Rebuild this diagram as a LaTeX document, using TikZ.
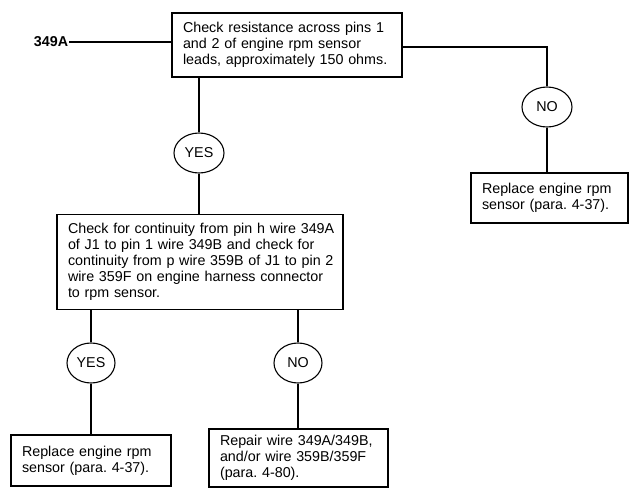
\documentclass[tikz,border=0pt]{standalone}
\usepackage{fontspec}
\setmainfont{Liberation Sans}
\frenchspacing
\usetikzlibrary{shapes.geometric}
\newcommand{\tline}[1]{\mbox{#1}}
\begin{document}
\begin{tikzpicture}[x=1pt,y=-1pt,
  every node/.style={font=\fontsize{14.3}{16}\selectfont},
  line/.style={line width=1.1pt},
  stepbox/.style={draw,line width=1.1pt,align=left,inner xsep=11pt,inner ysep=0pt,anchor=center},
  answer/.style={draw,ellipse,line width=1.1pt,inner sep=0pt,minimum width=50pt,minimum height=40pt}]
\useasboundingbox (0,0) rectangle (630,498);
\node[stepbox,text width=208pt,minimum height=64pt] (top) at (287,45)
  {\tline{Check resistance across pins 1}\\\tline{and 2 of engine rpm sensor}\\\tline{leads, approximately 150 ohms.}};
\node[font=\fontsize{14.3}{16}\selectfont\bfseries,inner sep=1pt] (lbl) at (51,42) {349A};
\node[answer] (yes1) at (199,153) {YES};
\node[answer] (no1) at (547,107) {NO};
\node[stepbox,text width=135pt,minimum height=50pt] (repl1) at (549.5,198)
  {\tline{Replace engine rpm}\\\tline{sensor (para. 4-37).}};
\node[stepbox,text width=264pt,minimum height=95pt] (mid) at (200,262)
  {\tline{Check for continuity from pin h wire 349A}\\\tline{of J1 to pin 1 wire 349B and check for}\\\tline{continuity from p wire 359B of J1 to pin 2}\\\tline{wire 359F on engine harness connector}\\\tline{to rpm sensor.}};
\node[answer,minimum width=48pt] (yes2) at (91,363) {YES};
\node[answer,minimum width=48pt] (no2) at (298,363) {NO};
\node[stepbox,text width=138pt,minimum height=51pt] (repl2) at (91,460.5)
  {\tline{Replace engine rpm}\\\tline{sensor (para. 4-37).}};
\node[stepbox,text width=157pt,minimum height=58pt] (repair) at (298.5,458)
  {\tline{Repair wire 349A/349B,}\\\tline{and/or wire 359B/359F}\\\tline{(para. 4-80).}};
\draw[line] (lbl.east) -- (lbl.east -| top.west);
\draw[line] (top.south -| yes1) -- (yes1.north);
\draw[line] (yes1.south) -- (yes1 |- mid.north);
\draw[line] ([yshift=-2pt]top.east) -| (no1.north);
\draw[line] (no1.south) -- (no1 |- repl1.north);
\draw[line] (mid.south -| yes2) -- (yes2.north);
\draw[line] (yes2.south) -- (yes2 |- repl2.north);
\draw[line] (mid.south -| no2) -- (no2.north);
\draw[line] (no2.south) -- (no2 |- repair.north);
\end{tikzpicture}
\end{document}
